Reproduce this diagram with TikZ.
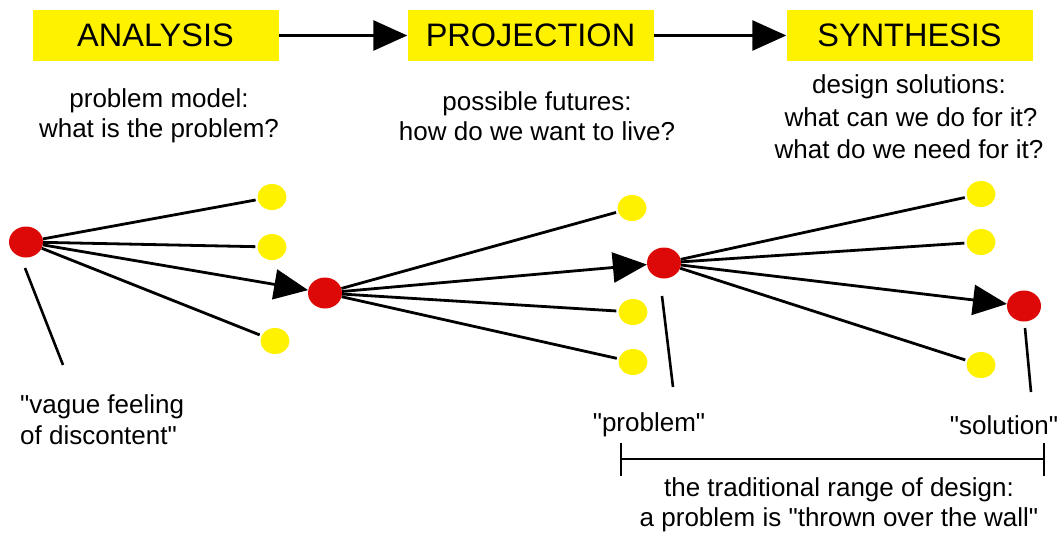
\documentclass[tikz,border=0pt]{standalone}
\usepackage{fontspec}
\newfontfamily\arialf{Liberation Sans}
\usetikzlibrary{shapes.geometric,arrows.meta}
\definecolor{boxyellow}{HTML}{FFF200}
\definecolor{dotred}{HTML}{DD0808}
\tikzset{
  every node/.append style={font=\arialf},
  phase/.style={fill=boxyellow,minimum width=246pt,minimum height=51pt,inner sep=0pt,font=\arialf\fontsize{32.5}{36}\selectfont},
  sub/.style={align=center,inner sep=0pt,font=\arialf\fontsize{26}{30}\selectfont},
  lab/.style={inner sep=0pt,font=\arialf\fontsize{26}{30}\selectfont},
  reddot/.style={ellipse,fill=dotred,minimum width=34pt,minimum height=31pt,inner sep=0pt},
  yeldot/.style={ellipse,fill=boxyellow,minimum width=29pt,minimum height=26pt,inner sep=0pt},
  conn/.style={line width=2.8pt,shorten >=2pt},
  bigarrow/.style={line width=2.8pt,-{Triangle[length=34pt,width=30pt]}},
  plain/.style={line width=2.6pt}
}
\begin{document}
\begin{tikzpicture}[x=1pt,y=-1pt]
\useasboundingbox (0,0) rectangle (1061,533);
% phase boxes
\node[phase] (ana) at (155.5,35.5) {ANALYSIS};
\node[phase] (pro) at (530.5,35.5) {PROJECTION};
\node[phase] (syn) at (909.5,35.5) {SYNTHESIS};
\draw[bigarrow] (ana) -- (pro);
\draw[bigarrow] (pro) -- (syn);
% sub texts
\node[sub] (anat) at (159,116) {problem model:\\what is the problem?};
\node[sub] (prot) at (537,116) {possible futures:\\how do we want to live?};
\node[sub,font=\arialf\fontsize{26}{32.5}\selectfont] (synt) at (909,117) {design solutions:\hspace{14pt}\\\hspace{4pt}what can we do for it?\\what do we need for it?};
% dots
\node[reddot] (r1) at (26,242) {};
\node[yeldot] (y1a) at (272,197) {};
\node[yeldot] (y1b) at (272,247) {};
\node[yeldot] (y1c) at (275,341) {};
\node[reddot] (r2) at (325,293) {};
\node[yeldot] (y2a) at (632,208) {};
\node[yeldot] (y2b) at (633,312) {};
\node[yeldot] (y2c) at (633,362) {};
\node[reddot] (r3) at (664,263) {};
\node[yeldot] (y3a) at (981,194) {};
\node[yeldot] (y3b) at (981,242) {};
\node[yeldot] (y3c) at (981,365) {};
\node[reddot] (r4) at (1024,306) {};
% connectors
\draw[conn] (r1) -- (y1a);
\draw[conn] (r1) -- (y1b);
\draw[conn] (r1) -- (y1c);
\draw[bigarrow] (r1) -- (r2);
\draw[conn] (r2) -- (y2a);
\draw[conn] (r2) -- (y2b);
\draw[conn] (r2) -- (y2c);
\draw[bigarrow] (r2) -- (r3);
\draw[conn] (r3) -- (y3a);
\draw[conn] (r3) -- (y3b);
\draw[conn] (r3) -- (y3c);
\draw[bigarrow] (r3) -- (r4);
% labels
\node[lab,align=left,anchor=west,font=\arialf\fontsize{26}{31}\selectfont] (lv) at (20,420) {"vague feeling\\of discontent"};
\node[lab] (lp) at (649,425) {"problem"};
\node[lab] (ls) at (1004,425) {"solution"};
\coordinate (c1a) at (25,268);
\coordinate (c1b) at (63,365);
\coordinate (c3a) at (662,296);
\coordinate (c3b) at (673,387);
\coordinate (c4a) at (1025,328);
\coordinate (c4b) at (1031,392);
\draw[plain] (c1a) -- (c1b);
\draw[plain] (c3a) -- (c3b);
\draw[plain] (c4a) -- (c4b);
% bracket
\coordinate (bl) at (621,459);
\coordinate (br) at (1044,459);
\draw[plain] (bl) -- (br);
\draw[plain] ([yshift=-17pt]bl) -- ([yshift=16pt]bl);
\draw[plain] ([yshift=-17pt]br) -- ([yshift=16pt]br);
\node[sub] (bt) at (839,505) {the traditional range of design:\\a problem is "thrown over the wall"};
\end{tikzpicture}
\end{document}
